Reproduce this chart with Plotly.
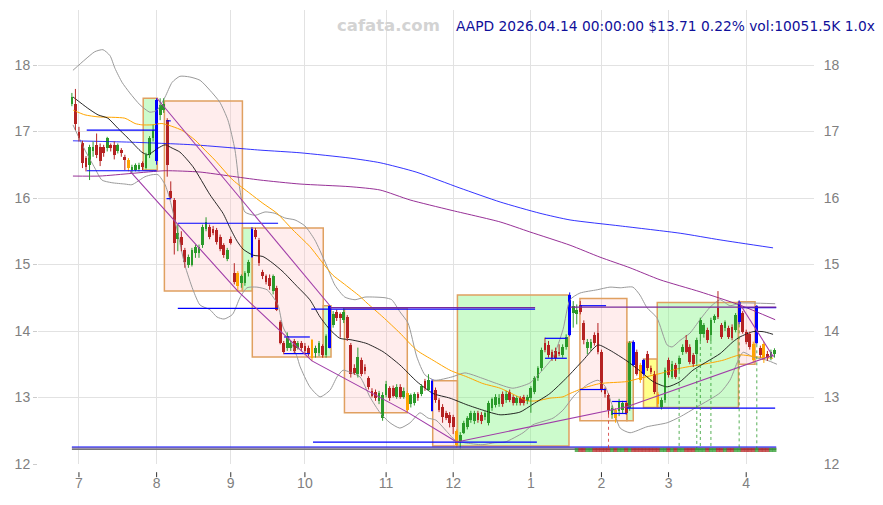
import plotly.graph_objects as go

# ---------------- data ----------------
month_idx = [2, 24, 45, 66, 89, 108, 130, 150, 169, 191]
month_lbl = ['7', '8', '9', '10', '11', '12', '1', '2', '3', '4']
y_ticks = [12, 13, 14, 15, 16, 17, 18]

opens = [17.42,17.42,17.00,16.82,16.60,16.50,16.70,16.80,16.77,16.77,16.75,16.79,16.79,16.70,16.72,16.62,16.57,16.42,16.42,16.43,
         16.52,16.45,16.65,16.90,16.55,17.25,17.32,17.17,16.10,15.97,15.39,15.42,15.22,14.99,15.00,15.17,15.18,15.29,15.54,15.57,
         15.54,15.52,15.42,15.29,15.09,15.39,14.87,14.87,14.72,14.72,14.87,15.12,15.52,15.37,14.89,14.82,14.80,14.60,14.64,14.14,
         13.82,13.75,13.75,13.85,13.75,13.82,13.77,13.75,13.86,13.67,13.67,13.77,13.64,13.75,14.09,14.29,14.25,14.17,14.21,13.79,
         13.44,13.36,13.56,13.46,13.29,13.10,13.09,12.94,12.69,13.04,13.14,13.14,13.01,13.16,13.01,13.07,12.90,12.92,13.05,13.06,
         13.25,13.12,13.25,13.11,12.96,12.86,12.77,12.74,12.71,12.49,12.34,12.47,12.56,12.66,12.65,12.77,12.74,12.70,12.61,12.84,
         12.89,12.90,13.05,12.96,13.09,13.01,12.91,12.99,13.01,12.94,12.99,13.09,13.29,13.44,13.82,13.79,13.69,13.70,13.69,13.64,
         13.76,13.94,14.27,14.25,14.39,14.12,13.74,13.74,13.94,13.97,13.69,13.12,13.04,12.74,12.81,12.79,12.81,12.91,12.84,13.84,
         13.69,13.49,13.56,13.66,13.44,13.36,13.05,12.86,12.96,13.56,13.31,13.49,13.51,13.69,13.86,13.76,13.64,13.66,13.96,13.96,
         14.02,13.94,14.17,14.34,14.09,14.04,14.04,14.06,14.02,14.14,14.27,13.99,13.96,13.81,13.82,13.74,13.81,13.66,13.59,13.66]
highs = [17.58,17.64,17.07,16.86,16.63,16.80,16.85,16.97,16.82,16.80,16.92,16.82,16.85,16.82,16.75,16.65,16.60,16.50,16.52,16.53,
         16.55,16.68,16.93,17.10,17.50,17.50,17.50,17.20,16.25,16.00,15.60,15.50,15.25,15.15,15.25,15.30,15.30,15.60,15.71,15.60,
         15.58,15.55,15.45,15.32,15.25,15.42,15.02,14.90,14.85,14.90,15.07,15.56,15.55,15.40,14.92,14.85,14.85,14.85,14.68,14.16,
         13.85,13.98,13.85,13.88,13.85,13.85,13.82,13.78,13.88,13.78,13.85,13.80,13.95,14.39,14.30,14.32,14.28,14.35,14.24,13.82,
         13.50,13.75,13.60,13.50,13.32,13.14,13.12,13.10,13.08,13.25,13.17,13.18,13.20,13.20,13.15,13.10,13.06,13.08,13.08,13.20,
         13.28,13.35,13.27,13.15,12.99,12.90,12.80,12.78,12.74,12.52,12.48,12.65,12.72,12.80,12.80,12.80,12.78,12.80,12.95,13.00,
         13.05,13.05,13.09,13.10,13.12,13.04,13.02,13.02,13.04,13.04,13.17,13.32,13.47,13.75,13.90,13.85,13.72,13.75,13.80,13.80,
         13.95,14.58,14.45,14.40,14.45,14.16,13.88,13.88,13.98,14.12,13.72,13.15,13.06,12.88,12.84,12.98,12.95,12.95,13.85,13.86,
         13.72,13.52,13.58,13.70,13.48,13.40,13.08,13.00,13.45,13.60,13.55,13.52,13.63,13.80,13.94,13.80,13.67,13.90,14.20,14.12,
         14.05,14.20,14.25,14.60,14.12,14.16,14.08,14.10,14.27,14.46,14.30,14.02,13.99,13.84,14.39,13.78,13.84,13.70,13.72,13.74]
lows = [17.38,17.02,16.85,16.45,16.40,16.27,16.62,16.60,16.48,16.62,16.70,16.70,16.58,16.67,16.62,16.42,16.40,16.38,16.40,16.40,
        16.42,16.43,16.60,16.85,16.50,17.17,17.28,16.32,15.98,15.15,15.20,15.20,14.95,14.95,14.97,15.10,15.10,15.25,15.50,15.38,
        15.44,15.30,15.20,15.10,15.05,15.30,14.70,14.60,14.65,14.68,14.82,15.10,15.38,14.98,14.78,14.70,14.62,14.55,14.30,13.80,
        13.65,13.70,13.70,13.66,13.72,13.70,13.66,13.62,13.55,13.60,13.62,13.60,13.60,13.74,14.05,14.15,13.90,14.12,13.85,13.30,
        13.34,13.30,13.32,13.35,13.12,13.00,12.95,12.90,12.65,13.00,12.95,13.00,12.98,12.98,12.98,12.78,12.85,12.88,12.95,13.02,
        13.10,13.10,12.79,12.92,12.78,12.62,12.66,12.55,12.45,12.24,12.22,12.45,12.52,12.62,12.60,12.62,12.60,12.66,12.58,12.80,
        12.85,12.86,12.86,12.92,12.93,12.88,12.88,12.88,12.88,12.90,12.77,13.05,13.25,13.40,13.68,13.60,13.55,13.55,13.62,13.60,
        13.72,13.92,14.05,14.10,14.25,13.80,13.65,13.70,13.78,13.65,13.08,13.00,12.74,12.68,12.62,12.72,12.76,12.74,12.80,13.47,
        13.33,13.22,13.33,13.40,13.35,13.05,12.84,12.82,12.92,13.30,13.28,13.28,13.40,13.64,13.66,13.50,13.46,13.52,13.85,13.90,
        13.82,13.85,14.12,14.18,13.88,14.00,13.88,13.86,13.98,14.10,13.96,13.80,13.72,13.52,13.80,13.60,13.52,13.55,13.56,13.60]
closes = [17.52,17.12,16.90,16.52,16.47,16.77,16.77,16.65,16.55,16.67,16.90,16.75,16.64,16.79,16.67,16.57,16.45,16.47,16.50,16.50,
          16.47,16.65,16.90,17.02,17.47,17.40,17.42,16.50,16.00,15.32,15.47,15.29,15.04,15.12,15.22,15.27,15.26,15.57,15.64,15.42,
          15.47,15.34,15.24,15.14,15.22,15.32,14.74,14.67,14.82,14.87,15.04,15.54,15.42,15.02,14.82,14.74,14.67,14.82,14.32,13.82,
          13.69,13.92,13.82,13.70,13.82,13.75,13.70,13.65,13.59,13.75,13.82,13.64,13.92,14.37,14.25,14.19,14.20,14.29,13.89,13.36,
          13.37,13.61,13.36,13.40,13.16,13.03,12.99,13.07,13.04,13.21,12.99,13.02,13.16,13.01,13.10,12.81,13.04,13.05,13.00,13.18,
          13.15,13.27,12.80,12.96,12.81,12.71,12.69,12.61,12.56,12.28,12.44,12.62,12.69,12.77,12.77,12.66,12.64,12.77,12.91,12.98,
          13.01,13.00,12.90,13.06,12.96,12.91,12.99,12.91,12.91,13.01,13.14,13.29,13.44,13.72,13.71,13.64,13.59,13.60,13.65,13.76,
          13.91,14.54,14.37,14.32,14.29,13.86,13.84,13.84,13.82,13.69,13.11,13.05,12.81,12.84,12.69,12.94,12.91,12.76,13.82,13.49,
          13.36,13.26,13.36,13.44,13.39,13.09,12.90,12.96,13.41,13.34,13.51,13.31,13.59,13.76,13.69,13.54,13.51,13.86,14.17,14.09,
          13.86,14.17,14.22,14.21,13.91,14.14,13.91,13.89,14.24,14.44,13.99,13.84,13.76,13.56,14.37,13.64,13.56,13.59,13.69,13.71]
blue_days = [24, 51, 73, 102, 141, 159, 162, 189, 194]
orange_days = [16, 47, 68, 95, 109, 154, 161, 166, 193, 196]

# moving averages / bands (index, price)
ma_black_x = [0.3,4.5,7.4,10.2,13.0,15.9,19.8,21.5,24.4,26.4,28.4,30.6,34.3,39.1,42.8,44.8,46.8,48.5,51.3,54.1,56.9,59.8,63.8,67.4,70.3,73.1,75.9,78.8,81.6,83.6,88.1,92.9,97.7,102.3,107.1,111.9,116.4,121.3,126.9,130.6,135.4,140.2,144.8,149.0,152.4,157.2,160.9,164.6,168.6,172.3,175.9,179.9,183.6,187.3,189.2,192.9,195.8,198.6]
ma_black_y = [17.52,17.35,17.25,17.20,17.05,16.90,16.69,16.65,16.75,16.80,16.75,16.69,16.47,16.05,15.77,15.55,15.35,15.23,15.14,15.12,15.02,14.89,14.67,14.47,14.21,14.02,13.89,13.87,13.84,13.81,13.69,13.49,13.24,13.06,12.99,12.89,12.81,12.74,12.78,12.90,13.06,13.30,13.56,13.79,13.71,13.55,13.40,13.24,13.16,13.24,13.41,13.54,13.66,13.84,13.91,13.99,13.99,13.95]
ma_orange_x = [0.4,3.7,7.4,15.0,17.9,19.8,22.7,25.5,31.1,34.9,37.7,40.5,45.6,50.4,54.1,58.1,62.6,67.4,71.1,73.9,76.8,81.6,83.6,88.1,92.9,97.7,102.3,107.1,111.9,116.4,121.3,126.1,128.9,131.7,135.4,139.1,141.1,144.8,149.6,157.2,160.9,166.6,172.3,179.9,184.4,189.2,194.0,198.6]
ma_orange_y = [17.32,17.25,17.22,17.20,17.12,17.10,17.10,17.12,17.02,16.87,16.72,16.57,16.27,16.07,15.92,15.77,15.52,15.27,15.02,14.84,14.72,14.52,14.42,14.21,13.97,13.71,13.56,13.41,13.31,13.21,13.14,13.02,12.95,12.95,12.99,13.01,13.06,13.14,13.21,13.24,13.29,13.36,13.44,13.51,13.56,13.64,13.61,13.59]
ma_purple_x = [0.3,7.9,17.0,26.4,36.3,44.8,53.3,64.6,78.8,87.3,95.8,107.1,121.3,129.7,141.1,149.6,158.1,166.6,177.9,189.2,199.2]
ma_purple_y = [16.33,16.33,16.37,16.41,16.39,16.33,16.27,16.21,16.17,16.12,15.97,15.82,15.64,15.49,15.29,15.11,14.95,14.77,14.59,14.39,14.17]
ma_blue_x = [0.3,16.4,34.3,53.3,64.6,78.8,87.3,97.5,109.9,121.3,132.6,141.1,155.3,172.3,183.6,198.6]
ma_blue_y = [16.86,16.84,16.80,16.72,16.68,16.60,16.53,16.39,16.15,15.94,15.77,15.67,15.58,15.47,15.37,15.25]
bb_up_x = [0.3,3.7,6.5,8.8,10.8,12.2,14.2,16.4,19.3,22.1,24.1,26.4,28.4,30.6,33.4,36.3,39.1,41.9,44.2,46.2,47.6,49.0,51.9,54.7,57.5,60.3,63.2,66.0,68.8,71.7,74.5,77.3,80.2,83.0,85.8,88.7,90.6,92.9,95.2,97.7,100.0,102.8,107.7,111.3,116.2,119.8,124.9,129.8,132.6,136.3,139.1,141.1,143.9,148.8,152.4,155.3,158.9,160.9,162.9,165.7,168.6,170.0,172.3,175.1,177.9,180.8,183.6,186.4,189.2,192.9,199.2]
bb_up_y = [17.92,18.08,18.20,18.23,18.14,17.95,17.74,17.58,17.40,17.29,17.32,17.52,17.74,17.83,17.82,17.77,17.62,17.44,17.17,16.72,16.12,15.79,15.74,15.79,15.77,15.70,15.67,15.58,15.37,15.04,14.69,14.51,14.47,14.51,14.51,14.50,14.47,14.29,14.12,13.61,13.34,13.26,13.31,13.37,13.29,13.22,13.14,13.22,13.37,13.61,14.02,14.47,14.57,14.62,14.66,14.65,14.66,14.54,14.35,14.20,13.79,13.76,13.86,13.97,14.17,14.36,14.47,14.38,14.42,14.42,14.41]
bb_lo_x = [0.3,3.7,6.5,8.5,11.3,15.0,17.0,20.7,22.7,24.4,26.4,27.8,29.8,32.0,34.3,36.3,39.1,41.1,43.1,45.5,47.6,49.6,52.4,55.3,57.0,58.4,59.8,61.8,63.8,64.6,67.4,70.3,73.1,75.1,76.8,78.8,81.6,84.4,87.3,90.1,92.9,95.8,98.6,100.9,103.1,106.5,108.5,111.3,116.2,119.8,122.7,127.8,130.6,136.3,139.1,142.5,146.2,149.0,151.0,153.0,155.3,158.1,162.9,168.6,172.3,177.1,183.6,186.4,188.4,190.1,192.9,196.9,199.7]
bb_lo_y = [17.10,16.72,16.45,16.27,16.23,16.21,16.20,16.32,16.35,16.35,16.20,15.97,15.52,14.99,14.62,14.39,14.32,14.21,14.18,14.25,14.50,14.65,14.66,14.62,14.51,14.39,14.06,13.86,13.61,13.47,13.16,13.01,13.11,13.31,13.41,13.38,13.31,13.01,12.77,12.62,12.54,12.62,12.77,12.69,12.66,12.47,12.36,12.32,12.29,12.32,12.33,12.47,12.59,12.69,12.81,13.04,13.20,13.26,13.17,12.89,12.54,12.47,12.56,12.62,12.71,12.86,13.07,13.26,13.52,13.68,13.61,13.56,13.50]

# pattern boxes: start idx, end idx, low, high, kind
box_x0 = [20.2, 26.2, 48.3, 51.1, 71.2, 77.2, 102.2, 109.2, 143.9, 157.2, 161.9, 165.8, 188.8]
box_x1 = [24.2, 48.3, 51.1, 71.2, 73.4, 95.0, 109.2, 140.8, 157.2, 159.0, 165.8, 188.8, 193.5]
box_lo = [16.42, 14.60, 14.60, 13.61, 13.61, 12.77, 12.27, 12.27, 12.65, 12.65, 12.85, 12.85, 13.50]
box_hi = [17.50, 17.46, 15.55, 15.55, 14.38, 14.34, 13.25, 14.54, 14.49, 13.83, 13.58, 14.43, 14.44]
box_kind = ['up', 'down', 'up', 'down', 'up', 'down', 'down', 'up', 'down', 'up', 'flat', 'up', 'down']

# horizontal levels: start idx, end idx, price, kind
lvl_x0 = [4.2, 4.2, 26.8, 26.8, 30.0, 30.0, 60.1, 60.1, 67.8, 73.1, 68.3, 134.0, 134.0, 143.9, 143.9, 153.0, 153.0, 157.2, 141.1, 188.8, 0.0, 0.0, 0.0]
lvl_x1 = [24.0, 24.0, 28.0, 28.0, 58.4, 58.4, 67.4, 67.4, 131.2, 131.2, 131.7, 140.2, 140.2, 151.3, 151.3, 157.2, 157.2, 199.2, 199.5, 199.5, 199.5, 199.5, 199.5]
lvl_y = [17.02, 16.41, 17.16, 15.99, 15.62, 14.34, 13.91, 13.66, 14.33, 14.35, 12.33, 13.89, 13.59, 14.38, 13.12, 12.94, 12.76, 12.84, 14.36, 14.35, 12.255, 12.238, 12.22]
lvl_kind = ['b', 'b', 'b', 'b', 'b', 'b', 'b', 'b', 'b', 'p', 'b', 'b', 'b', 'b', 'b', 'b', 'b', 'b', 'p', 'b', 'b', 'm', 'g']

# trend lines through pivots (index, price)
trend_lo1_x = [16.5, 47.0, 68.0, 95.0, 109.0]
trend_lo1_y = [16.40, 14.60, 13.55, 12.78, 12.33]
trend_lo2_x = [109.0, 157.2, 198.8]
trend_lo2_y = [12.33, 12.86, 13.64]
trend_hi1_x = [24.1, 73.1]
trend_hi1_y = [17.50, 14.38]
trend_hi2_x = [188.8, 198.7]
trend_hi2_y = [14.44, 13.61]

# signal days (dotted drop lines)
sig_up_days = [172, 177, 178, 181, 189, 194]
sig_dn_days = [152]
vol_from = 143

header = 'AAPD 2026.04.14 00:00:00 $13.71 0.22% vol:10051.5K 1.0x'
brand = 'cafata.com'

# ---------------- figure ----------------
GREEN = '#2b9a2b'
RED = '#b52323'
BLUE = '#0000ff'
ORANGE = '#ffa500'
PURPLE = '#a03ca8'
base_line = 12.21
TICKFONT = dict(family='Liberation Sans, Arial, sans-serif', size=14, color='#808080')

fig = go.Figure()

# Bollinger & moving averages
for xs, ys, col, w in [(bb_up_x, bb_up_y, '#9a9a9a', 1), (bb_lo_x, bb_lo_y, '#9a9a9a', 1),
                       (ma_blue_x, ma_blue_y, BLUE, 0.8), (ma_purple_x, ma_purple_y, '#8b1a8b', 0.9),
                       (ma_orange_x, ma_orange_y, ORANGE, 1), (ma_black_x, ma_black_y, '#111111', 0.9)]:
    fig.add_trace(go.Scatter(x=xs, y=ys, mode='lines', line=dict(color=col, width=w, shape='spline', smoothing=0.6),
                             hoverinfo='skip'))

# candles grouped by colour
n = len(closes)
groups = {GREEN: [], RED: [], BLUE: [], ORANGE: []}
for i in range(n):
    if i in blue_days:
        groups[BLUE].append(i)
    elif i in orange_days:
        groups[ORANGE].append(i)
    elif closes[i] >= opens[i]:
        groups[GREEN].append(i)
    else:
        groups[RED].append(i)

for col, idx in groups.items():
    wx, wy = [], []
    for i in idx:
        wx += [i, i, None]
        wy += [lows[i], highs[i], None]
    fig.add_trace(go.Scatter(x=wx, y=wy, mode='lines', line=dict(color=col, width=1), hoverinfo='skip'))
    fig.add_trace(go.Bar(x=idx, base=[min(opens[i], closes[i]) for i in idx],
                         y=[max(abs(closes[i] - opens[i]), 0.015) for i in idx],
                         width=0.78, marker=dict(color=col, line=dict(width=0)), hoverinfo='skip'))

# horizontal levels
kind_col = {'b': BLUE, 'p': '#7a2a9a', 'm': '#8c7aa0', 'g': '#777777'}
for k, col in kind_col.items():
    hx, hy = [], []
    for a, b, y, kk in zip(lvl_x0, lvl_x1, lvl_y, lvl_kind):
        if kk == k:
            hx += [a, b, None]
            hy += [y, y, None]
    fig.add_trace(go.Scatter(x=hx, y=hy, mode='lines', line=dict(color=col, width=1.2), hoverinfo='skip'))

# trend lines
for xs, ys in [(trend_lo1_x, trend_lo1_y), (trend_lo2_x, trend_lo2_y), (trend_hi1_x, trend_hi1_y), (trend_hi2_x, trend_hi2_y)]:
    fig.add_trace(go.Scatter(x=xs, y=ys, mode='lines', line=dict(color=PURPLE, width=1.1), hoverinfo='skip'))

# dotted signal drop lines
for days, col in [(sig_up_days, '#2b9a2b'), (sig_dn_days, '#d03030')]:
    dx, dy = [], []
    for i in days:
        dx += [i, i, None]
        dy += [lows[i], base_line, None]
    fig.add_trace(go.Scatter(x=dx, y=dy, mode='lines', line=dict(color=col, width=0.8, dash='dot'), hoverinfo='skip'))

# small volume ticks at bottom
vx = list(range(vol_from, n))
vc = ['rgba(43,154,43,0.75)' if closes[i] >= opens[i] else 'rgba(181,35,35,0.75)' for i in vx]
fig.add_trace(go.Scatter(x=vx, y=[base_line] * len(vx), mode='markers',
                         marker=dict(symbol='square', size=4, color=vc, line=dict(width=0)), hoverinfo='skip'))

# right axis mirror trace
fig.add_trace(go.Scatter(x=[0], y=[closes[0]], yaxis='y2', mode='markers', marker=dict(opacity=0), hoverinfo='skip'))

# boxes
fills = {'up': 'rgba(120,245,120,0.38)', 'down': 'rgba(255,190,190,0.28)', 'flat': 'rgba(255,255,60,0.6)'}
for x0, x1, lo, hi, kd in zip(box_x0, box_x1, box_lo, box_hi, box_kind):
    fig.add_shape(type='rect', x0=x0, x1=x1, y0=lo, y1=hi, xref='x', yref='y', layer='between',
                  fillcolor=fills[kd], line=dict(color='#e0a060', width=1.5))

# x tick marks (drawn below the baseline)
for m in month_idx:
    fig.add_shape(type='line', x0=m, x1=m, xref='x', yref='paper', y0=-0.018, y1=-0.029,
                  line=dict(color='#333333', width=1))

# page body adds an 8px margin, so the figure is sized to end at the window edge
yr = [12, 18.827]
fig.update_layout(
    width=875, height=497, margin=dict(l=30, r=69, t=2, b=41),
    plot_bgcolor='white', paper_bgcolor='white', showlegend=False, barmode='overlay', bargap=0,
    xaxis=dict(range=[-9.6, 210.2], tickvals=month_idx, ticktext=month_lbl, showgrid=True, gridcolor='#e2e2e2',
               zeroline=False, showline=False, ticks='', ticklabelstandoff=9, automargin=False, tickfont=TICKFONT),
    yaxis=dict(range=yr, tickvals=y_ticks, showgrid=True, gridcolor='#e2e2e2', zeroline=False, ticks='outside',
               ticklen=4, tickcolor='#cccccc', automargin=False, tickfont=TICKFONT),
    yaxis2=dict(range=yr, tickvals=y_ticks, overlaying='y', side='right', showgrid=False, zeroline=False,
                ticks='outside', ticklen=6, tickcolor='rgba(0,0,0,0)', automargin=False, tickfont=TICKFONT),
    annotations=[
        dict(text=brand, xref='paper', yref='paper', x=0.4523, y=0.9648, xanchor='center', yanchor='middle',
             showarrow=False, font=dict(family='DejaVu Sans', size=16.5, color='#d3d3d3', weight='bold')),
        dict(text=header, xref='paper', yref='paper', x=0.536, y=0.9648, xanchor='left', yanchor='middle',
             showarrow=False, font=dict(family='DejaVu Sans', size=13.8, color='#10109a')),
    ],
)

fig.write_html('out.html')
